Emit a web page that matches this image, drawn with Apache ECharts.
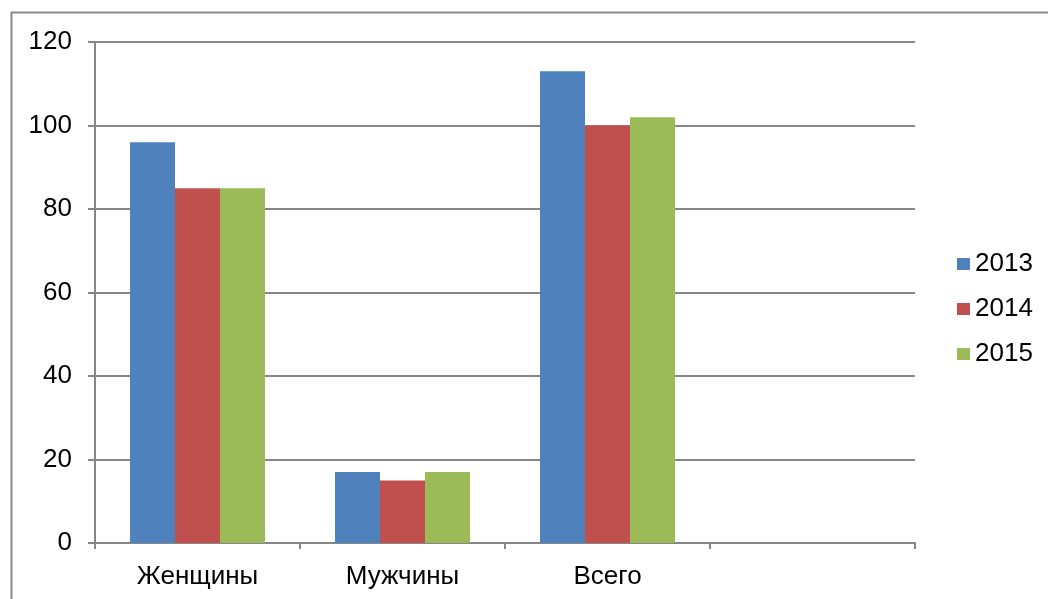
<!DOCTYPE html>
<html>
<head>
<meta charset="utf-8">
<script src="https://cdn.jsdelivr.net/npm/echarts@6/dist/echarts.min.js"></script>
<style>
  html, body { margin: 0; padding: 0; background: #fff; }
  #chart { width: 1048px; height: 599px; }
</style>
</head>
<body>
<div id="chart"></div>
<script>
const categories = ["Женщины", "Мужчины", "Всего", ""]
const years = ["2013", "2014", "2015"]
const values2013 = [96, 17, 113, null]
const values2014 = [85, 15, 100, null]
const values2015 = [85, 17, 102, null]
const yTicks = { min: 0, max: 120, interval: 20 }

const colors = ["#4f81bd", "#c0504d", "#9bbb59"]
const font = "Liberation Sans, Arial, sans-serif"

const chart = echarts.init(document.getElementById("chart"))
chart.setOption({
  animation: false,
  backgroundColor: "#fff",
  color: colors,
  textStyle: { fontFamily: font, color: "#000" },
  graphic: [{
    type: "rect",
    shape: { x: 11.5, y: 12.5, width: 1200, height: 800 },
    style: { fill: "none", stroke: "#888", lineWidth: 2 },
    silent: true,
  }],
  grid: { left: 95, right: 133, top: 42, bottom: 56 },
  legend: {
    orient: "vertical",
    left: 952,
    top: 246,
    itemWidth: 13,
    itemHeight: 12,
    itemGap: 19,
    icon: "rect",
    textStyle: { fontSize: 26, color: "#000", fontFamily: font },
    data: years,
  },
  xAxis: {
    type: "category",
    data: categories,
    axisLine: { lineStyle: { color: "#868686", width: 2 } },
    axisTick: { show: true, length: 6, lineStyle: { color: "#868686", width: 2 } },
    axisLabel: { fontSize: 26, color: "#000", margin: 21, fontFamily: font },
    splitLine: { show: false },
  },
  yAxis: {
    type: "value",
    ...yTicks,
    axisLine: { show: true, lineStyle: { color: "#868686", width: 2 } },
    axisTick: { show: true, length: 7, lineStyle: { color: "#868686", width: 2 } },
    axisLabel: { fontSize: 26, color: "#000", margin: 23, fontFamily: font },
    splitLine: { lineStyle: { color: "#868686", width: 2 } },
  },
  series: [
    { name: years[0], type: "bar", data: values2013, barWidth: 45, barGap: "0%" },
    { name: years[1], type: "bar", data: values2014, barWidth: 45, barGap: "0%" },
    { name: years[2], type: "bar", data: values2015, barWidth: 45, barGap: "0%" },
  ],
})
</script>
</body>
</html>
